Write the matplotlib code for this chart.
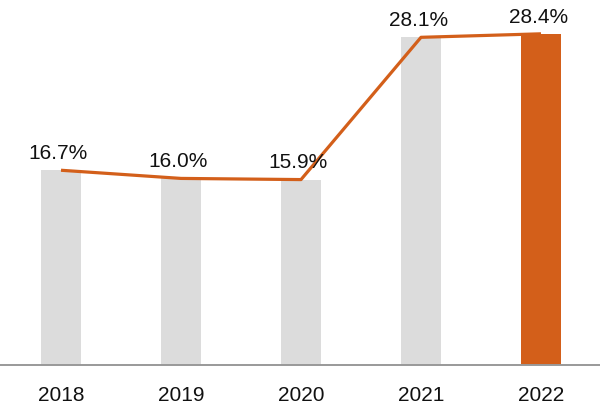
import matplotlib.pyplot as plt

years = ['2018', '2019', '2020', '2021', '2022']
values = [16.7, 16.0, 15.9, 28.1, 28.4]
labels = ['16.7%', '16.0%', '15.9%', '28.1%', '28.4%']

gray = '#dcdcdc'
orange = '#d35f1a'
bar_colors = [gray, gray, gray, gray, orange]

plt.rcParams['font.family'] = ['Liberation Sans', 'DejaVu Sans']

fig = plt.figure(figsize=(6, 4.18), dpi=100)
ax = fig.add_axes([0, 53 / 418, 1, 365 / 418])

x = list(range(len(years)))
ax.bar(x, values, width=0.333, color=bar_colors, zorder=2)
ax.plot(x, values, color=orange, linewidth=2.3, solid_capstyle='butt', zorder=3)

for xi, v, lab in zip(x, values, labels):
    ax.annotate(lab, (xi, v), xytext=(-2, 12), textcoords='offset points',
                ha='center', va='center', fontsize=15, color='#111111')

ax.set_xlim(-61 / 120, (600 - 61) / 120)
ax.set_ylim(0, 31.3)
ax.set_xticks(x)
ax.set_xticklabels(years, fontsize=15, color='#111111')
ax.tick_params(axis='x', length=0, pad=15)
ax.set_yticks([])
for side in ['top', 'right', 'left']:
    ax.spines[side].set_visible(False)
ax.spines['bottom'].set_color('#999999')
ax.spines['bottom'].set_linewidth(1.4)

fig.savefig('out.png', dpi=100)
